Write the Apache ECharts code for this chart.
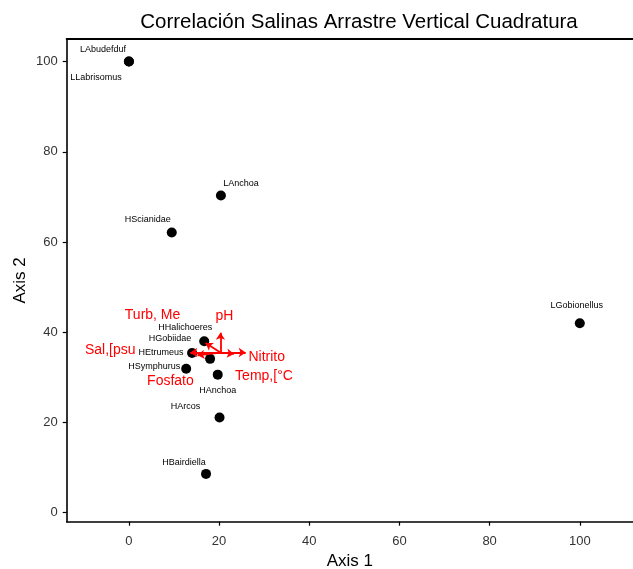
<!DOCTYPE html>
<html>
<head>
<meta charset="utf-8">
<title>Correlación Salinas Arrastre Vertical Cuadratura</title>
<script src="https://cdn.jsdelivr.net/npm/echarts@6/dist/echarts.min.js"></script>
<style>
  html, body { margin: 0; padding: 0; background: #ffffff; }
  #chart { width: 633px; height: 569px; }
</style>
</head>
<body>
<div id="chart"></div>
<script>
// Ordination scores of taxa (Axis 1, Axis 2)
const taxa = ['LAbudefduf', 'LLabrisomus', 'LAnchoa', 'HScianidae', 'LGobionellus',
  'HHalichoeres', 'HGobiidae', 'HEtrumeus', 'HSymphurus', 'HAnchoa', 'HArcos', 'HBairdiella'];
const axis1 = [0, 0, 20.4, 9.5, 100, 16.7, 18.0, 14.0, 12.7, 19.7, 20.1, 17.1];
const axis2 = [100, 100, 70.3, 62.1, 42.0, 38.0, 34.1, 35.4, 31.9, 30.6, 21.1, 8.6];

// Environmental vectors: common origin and arrow tips
const vecOrigin = [20.3, 35.5];
const vecNames = ['Turb, Me', 'pH', 'Sal,[psu', 'Nitrito', 'Temp,[°C', 'Fosfato'];
const vecX = [17.0, 20.3, 13.6, 25.9, 23.3, 15.2];
const vecY = [37.6, 39.9, 35.5, 35.5, 35.2, 34.9];

// Tick values
const xTicks = [0, 20, 40, 60, 80, 100];
const yTicks = [0, 20, 40, 60, 80, 100];

// Label placement (pixel offsets from each mark)
const taxaLabelOffset = {
  LAbudefduf: [-26, -12], LLabrisomus: [-33, 16], LAnchoa: [20, -12],
  HScianidae: [-24, -13], LGobionellus: [-3, -18], HHalichoeres: [-19, -14],
  HGobiidae: [-40, -20], HEtrumeus: [-31, 0], HSymphurus: [-32, -2],
  HAnchoa: [0, 16], HArcos: [-34, -11], HBairdiella: [-22, -11]
};
const vecLabelOffset = {
  'Turb, Me': [-53, -28], 'pH': [4, -17], 'Sal,[psu': [-80, -2],
  'Nitrito': [21, 5], 'Temp,[°C': [30, 22], 'Fosfato': [-27, 26]
};

const FONT = '"Liberation Sans", Arial, sans-serif';
const xRange = [-13.8, 111.8];
const yRange = [-2, 105];

const taxaData = taxa.map((name, i) => ({
  name: name,
  value: [axis1[i], axis2[i]],
  label: { offset: taxaLabelOffset[name] }
}));

const arrowData = vecNames.map((name, i) => ({
  name: name,
  coords: [vecOrigin, [vecX[i], vecY[i]]]
}));

const vecLabelData = vecNames.map((name, i) => ({
  name: name,
  value: [vecX[i], vecY[i]],
  label: { offset: vecLabelOffset[name] }
}));

const chart = echarts.init(document.getElementById('chart'), null, { renderer: 'canvas' });

chart.setOption({
  animation: false,
  backgroundColor: '#ffffff',
  textStyle: { fontFamily: FONT },
  title: {
    text: 'Correlación Salinas Arrastre Vertical Cuadratura',
    left: 354, top: 7, textAlign: 'center',
    textStyle: { fontFamily: FONT, fontSize: 20.5, fontWeight: 'normal', color: '#000' }
  },
  grid: {
    left: 66.7, right: 0, top: 39, bottom: 47.3,
    containLabel: false, outerBoundsMode: 'none'
  },
  xAxis: [{
    type: 'value', min: xRange[0], max: xRange[1], position: 'bottom',
    name: 'Axis 1', nameLocation: 'middle', nameGap: 31,
    nameTextStyle: { fontFamily: FONT, fontSize: 17, color: '#000' },
    axisLine: { show: true, onZero: false, lineStyle: { color: '#000', width: 1.6 } },
    axisTick: { show: true, length: 4, lineStyle: { color: '#000', width: 1.2 }, customValues: xTicks },
    axisLabel: { fontFamily: FONT, fontSize: 13, color: '#333', margin: 13, customValues: xTicks },
    splitLine: { show: false }
  }, {
    type: 'value', min: xRange[0], max: xRange[1], position: 'top',
    axisLine: { show: true, onZero: false, lineStyle: { color: '#000', width: 2 } },
    axisTick: { show: false }, axisLabel: { show: false }, splitLine: { show: false }
  }],
  yAxis: {
    type: 'value', min: yRange[0], max: yRange[1],
    name: 'Axis 2', nameLocation: 'middle', nameGap: 38, nameRotate: 90,
    nameMoveOverlap: false,
    nameTextStyle: { fontFamily: FONT, fontSize: 17, color: '#000' },
    axisLine: { show: true, onZero: false, lineStyle: { color: '#000', width: 1.6 } },
    axisTick: { show: true, length: 4, lineStyle: { color: '#000', width: 1.2 }, customValues: yTicks },
    axisLabel: { fontFamily: FONT, fontSize: 13, color: '#333', margin: 9, customValues: yTicks },
    splitLine: { show: false }
  },
  series: [{
    name: 'taxa',
    type: 'scatter',
    xAxisIndex: 0,
    symbol: 'circle',
    symbolSize: 10,
    itemStyle: { color: '#000', opacity: 1 },
    label: {
      show: true, position: 'inside', formatter: '{b}',
      fontFamily: FONT, fontSize: 9, color: '#000'
    },
    data: taxaData,
    z: 3
  }, {
    name: 'vectors',
    type: 'lines',
    coordinateSystem: 'cartesian2d',
    xAxisIndex: 0,
    symbol: ['none', 'arrow'],
    symbolSize: [0, 7],
    lineStyle: { color: '#ff0000', width: 1.8, opacity: 1 },
    data: arrowData,
    z: 4
  }, {
    name: 'vectorLabels',
    type: 'scatter',
    xAxisIndex: 0,
    symbolSize: 0,
    itemStyle: { color: '#ff0000', opacity: 1 },
    label: {
      show: true, position: 'inside', formatter: '{b}',
      fontFamily: FONT, fontSize: 14, color: '#ff0000'
    },
    data: vecLabelData,
    silent: true,
    z: 5
  }]
});
</script>
</body>
</html>
